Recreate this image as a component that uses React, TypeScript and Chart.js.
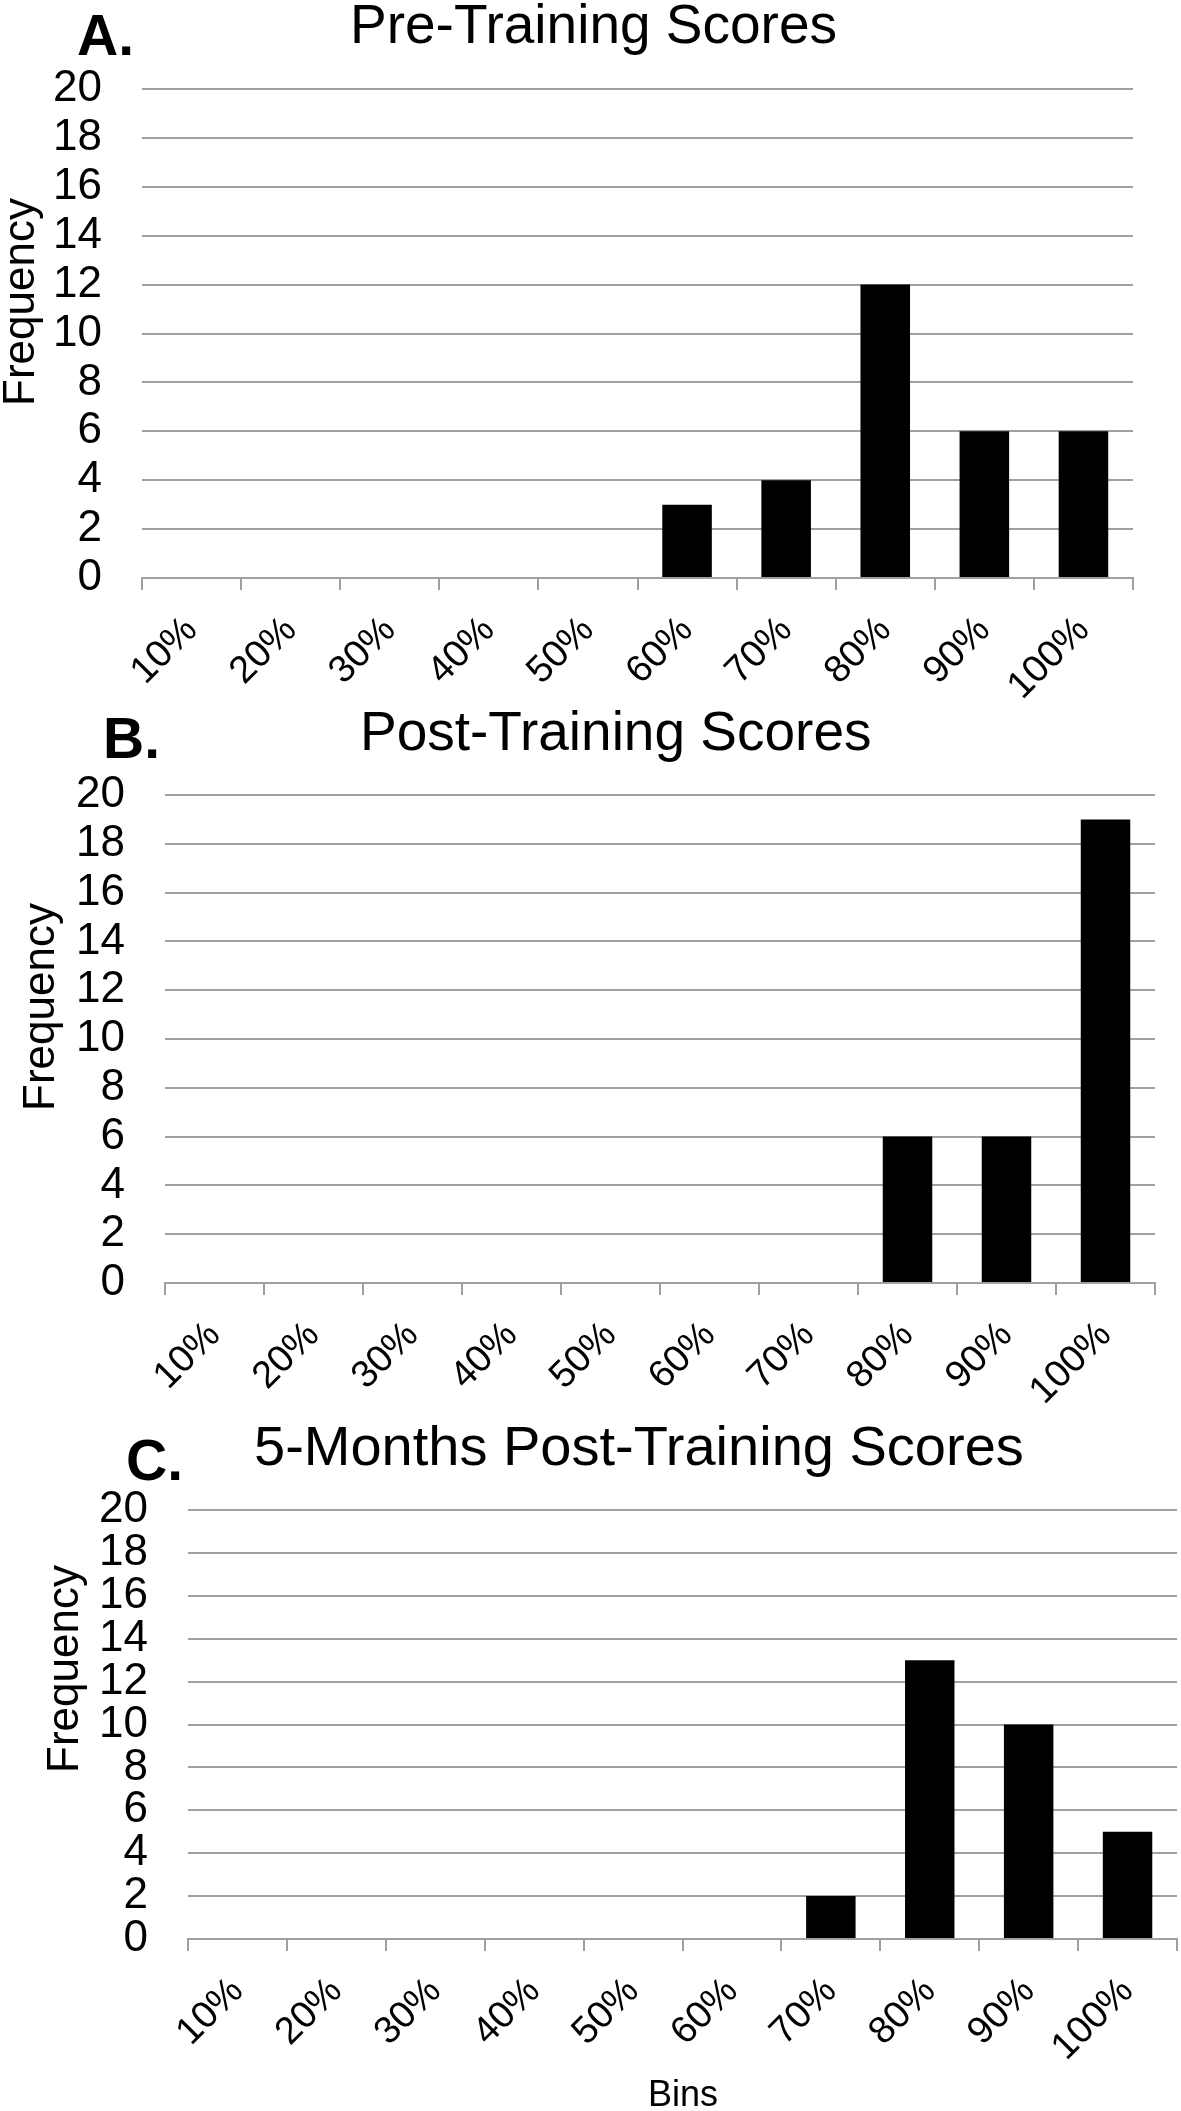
import React, { useEffect, useRef } from "react";
import { Chart, registerables } from "chart.js";

Chart.register(...registerables);

// ---------- data ----------
const bins = ["10%", "20%", "30%", "40%", "50%", "60%", "70%", "80%", "90%", "100%"];
const preTrainingFreq = [0, 0, 0, 0, 0, 3, 4, 12, 6, 6];
const postTrainingFreq = [0, 0, 0, 0, 0, 0, 0, 6, 6, 19];
const fiveMonthsFreq = [0, 0, 0, 0, 0, 0, 2, 13, 10, 5];
const yMin = 0;
const yMax = 20;
const yStep = 2;
const panelLetters = ["A.", "B.", "C."];
const panelTitles = ["Pre-Training Scores", "Post-Training Scores", "5-Months Post-Training Scores"];
const yAxisTitle = "Frequency";
const xAxisTitle = "Bins";

// ---------- layout (page pixels) ----------
const FONT = "'Liberation Sans', Arial, Helvetica, sans-serif";
const W = 1181;
const GRID = "#a0a0a0";

type Panel = {
  values: number[];
  letter: string;
  title: string;
  top: number;
  height: number;
  plotTop: number;
  plotBottom: number;
  plotLeft: number;
  plotRight: number;
  letterX: number;
  letterY: number;
  titleX: number;
  titleY: number;
  titleSize: number;
  freqX: number;
  freqY: number;
  showBins: boolean;
};

// canvases are transparent and may overlap slightly
const panels: Panel[] = [
  {
    values: preTrainingFreq, letter: panelLetters[0], title: panelTitles[0],
    top: 0, height: 720, plotTop: 89, plotBottom: 578, plotLeft: 142, plotRight: 1133,
    letterX: 77, letterY: 55, titleX: 350, titleY: 43, titleSize: 55,
    freqX: 22, freqY: 302, showBins: false,
  },
  {
    values: postTrainingFreq, letter: panelLetters[1], title: panelTitles[1],
    top: 690, height: 730, plotTop: 795, plotBottom: 1283, plotLeft: 165, plotRight: 1155,
    letterX: 103, letterY: 758, titleX: 360, titleY: 750, titleSize: 55,
    freqX: 42, freqY: 1007, showBins: false,
  },
  {
    values: fiveMonthsFreq, letter: panelLetters[2], title: panelTitles[2],
    top: 1400, height: 711, plotTop: 1510, plotBottom: 1939, plotLeft: 188, plotRight: 1177,
    letterX: 126, letterY: 1480, titleX: 254, titleY: 1465, titleSize: 56,
    freqX: 66, freqY: 1669, showBins: true,
  },
];

const X_AXIS_H = 130;

const panelTextPlugin = {
  id: "panelText",
  afterDraw(chart: any, _args: any, opts: any) {
    const p: Panel = opts.panel;
    if (!p) return;
    const ctx = chart.ctx as CanvasRenderingContext2D;
    const oy = p.top;
    ctx.save();
    ctx.fillStyle = "#000";
    ctx.textBaseline = "alphabetic";
    // panel letter
    ctx.font = `bold 57px ${FONT}`;
    ctx.textAlign = "left";
    ctx.fillText(p.letter, p.letterX, p.letterY - oy);
    // title
    ctx.font = `${p.titleSize}px ${FONT}`;
    ctx.fillText(p.title, p.titleX, p.titleY - oy);
    // y axis title
    ctx.save();
    ctx.translate(p.freqX, p.freqY - oy);
    ctx.rotate(-Math.PI / 2);
    ctx.font = `44px ${FONT}`;
    ctx.textAlign = "center";
    ctx.textBaseline = "middle";
    ctx.fillText(yAxisTitle, 0, 0);
    ctx.restore();
    // x axis title
    if (p.showBins) {
      ctx.font = `36px ${FONT}`;
      ctx.textAlign = "center";
      ctx.fillText(xAxisTitle, 683, 2106 - oy);
    }
    ctx.restore();
  },
};

function PanelChart({ p }: { p: Panel }) {
  const ref = useRef<HTMLCanvasElement | null>(null);
  useEffect(() => {
    if (!ref.current) return;
    const padTop = p.plotTop - p.top;
    const padBottom = Math.max(0, p.height - (p.plotBottom - p.top) - X_AXIS_H);
    const chart = new Chart(ref.current, {
      type: "bar",
      data: {
        labels: bins,
        datasets: [
          {
            data: p.values,
            backgroundColor: "#000000",
            borderWidth: 0,
            barPercentage: 0.5,
            categoryPercentage: 1,
          },
        ],
      },
      options: {
        responsive: false,
        animation: false,
        devicePixelRatio: 1,
        layout: { padding: { left: 0, top: padTop, right: W - p.plotRight, bottom: padBottom } },
        plugins: {
          legend: { display: false },
          tooltip: { enabled: false },
          title: { display: false },
          panelText: { panel: p },
        } as any,
        scales: {
          x: {
            grid: {
              display: true,
              drawOnChartArea: false,
              drawTicks: true,
              tickLength: 12,
              color: GRID,
              lineWidth: 2,
              offset: true,
            },
            border: { display: true, color: GRID, width: 2 },
            ticks: {
              font: { family: FONT, size: 38 },
              color: "#000",
              minRotation: 45,
              maxRotation: 45,
              autoSkip: false,
              padding: 18,
            },
            afterFit: (s: any) => {
              s.height = X_AXIS_H;
            },
          },
          y: {
            min: yMin,
            max: yMax,
            ticks: {
              stepSize: yStep,
              autoSkip: false,
              font: { family: FONT, size: 44 },
              color: "#000",
              padding: 40,
            },
            grid: { color: GRID, lineWidth: 2, drawTicks: false },
            border: { display: false },
            afterFit: (s: any) => {
              s.width = p.plotLeft;
            },
          },
        },
      },
      plugins: [panelTextPlugin],
    });
    return () => chart.destroy();
  }, [p]);
  return (
    <canvas
      ref={ref}
      width={W}
      height={p.height}
      style={{ position: "absolute", left: 0, top: p.top, width: W, height: p.height }}
    />
  );
}

export default function App() {
  return (
    <div style={{ position: "absolute", left: 0, top: 0, width: W, height: 2111, background: "#fff" }}>
      {panels.map((p, i) => (
        <PanelChart key={i} p={p} />
      ))}
    </div>
  );
}
